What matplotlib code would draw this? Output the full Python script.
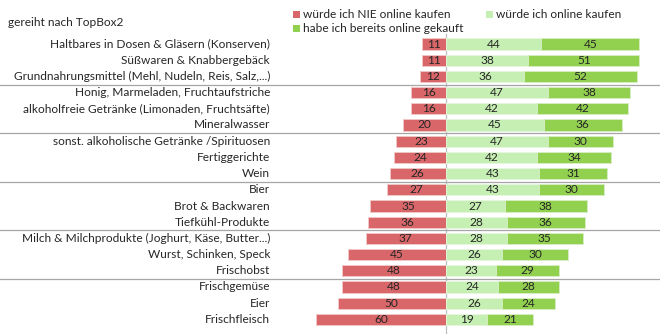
import matplotlib
matplotlib.use("Agg")
import matplotlib.pyplot as plt
import matplotlib.transforms as mtransforms
from matplotlib.patches import Rectangle

categories = [
    "Haltbares in Dosen & Gläsern (Konserven)",
    "Süßwaren & Knabbergebäck",
    "Grundnahrungsmittel (Mehl, Nudeln, Reis, Salz,...)",
    "Honig, Marmeladen, Fruchtaufstriche",
    "alkoholfreie Getränke (Limonaden, Fruchtsäfte)",
    "Mineralwasser",
    "sonst. alkoholische Getränke /Spirituosen",
    "Fertiggerichte",
    "Wein",
    "Bier",
    "Brot & Backwaren",
    "Tiefkühl-Produkte",
    "Milch & Milchprodukte (Joghurt, Käse, Butter...)",
    "Wurst, Schinken, Speck",
    "Frischobst",
    "Frischgemüse",
    "Eier",
    "Frischfleisch",
]
nie = [11, 11, 12, 16, 16, 20, 23, 24, 26, 27, 35, 36, 37, 45, 48, 48, 50, 60]
wuerde = [44, 38, 36, 47, 42, 45, 47, 42, 43, 43, 27, 28, 28, 26, 23, 24, 26, 19]
bereits = [45, 51, 52, 38, 42, 36, 30, 34, 31, 30, 38, 36, 35, 30, 29, 28, 24, 21]
series_labels = ["würde ich NIE online kaufen", "würde ich online kaufen",
                 "habe ich bereits online gekauft"]
group_breaks = [3, 6, 9, 12, 15]

C_RED = "#D9676A"
C_LIGHT = "#C6EFB3"
C_GREEN = "#92D050"
C_TEXT = "#262626"

plt.rcParams["font.family"] = ["Lato", "DejaVu Sans"]

W, H = 660, 334
fig = plt.figure(figsize=(W / 100, H / 100), dpi=100)
ax = fig.add_axes([0, 0, 1, 1])

px_per_unit = 2.17
zero_px = 446
row0_px, row_step = 44, 16.2
ax.set_xlim(-zero_px / px_per_unit, (W - zero_px) / px_per_unit)
ax.set_ylim((H - row0_px) / row_step, -row0_px / row_step)
ax.axis("off")

ys = list(range(len(categories)))
bh = 0.68
ax.barh(ys, [-v for v in nie], height=bh, color=C_RED, edgecolor="#F2C9CA", linewidth=0.6)
ax.barh(ys, wuerde, height=bh, color=C_LIGHT, edgecolor="#E6F7DD", linewidth=0.6)
ax.barh(ys, bereits, left=wuerde, height=bh, color=C_GREEN, edgecolor="#D7EEC5", linewidth=0.6)

fs = 8.6
for y, a, b, c in zip(ys, nie, wuerde, bereits):
    ax.text(-a / 2, y, str(a), ha="center", va="center", fontsize=fs, color=C_TEXT)
    ax.text(b / 2, y, str(b), ha="center", va="center", fontsize=fs, color=C_TEXT)
    ax.text(b + c / 2, y, str(c), ha="center", va="center", fontsize=fs, color=C_TEXT)

# zero line
ax.plot([0, 0], [-0.6, len(categories) + 1], color="#BFBFBF", lw=0.9, zorder=0)

# group separators across the full width
for g in group_breaks:
    ax.plot([-300, 300], [g - 0.5, g - 0.5], color="#A6A6A6", lw=0.9, zorder=0)

# category labels
blend = mtransforms.blended_transform_factory(fig.transFigure, ax.transData)
for y, name in zip(ys, categories):
    ax.text(270 / W, y, name, transform=blend, ha="right", va="center",
            fontsize=fs, color=C_TEXT)

fig.text(8 / W, 1 - 22 / H, "gereiht nach TopBox2", ha="left", va="center",
         fontsize=fs, color=C_TEXT)

# legend
legend_items = [(293, 14, C_RED, series_labels[0]),
                (486, 14, C_LIGHT, series_labels[1]),
                (293, 28, C_GREEN, series_labels[2])]
for lx, ly, col, lab in legend_items:
    fig.patches.append(Rectangle((lx / W, 1 - (ly + 4) / H), 7 / W, 7 / H,
                                 transform=fig.transFigure, facecolor=col,
                                 edgecolor="none"))
    fig.text((lx + 10) / W, 1 - ly / H, lab, ha="left", va="center",
             fontsize=fs, color=C_TEXT)

fig.savefig("out.png", dpi=100, facecolor="white")
